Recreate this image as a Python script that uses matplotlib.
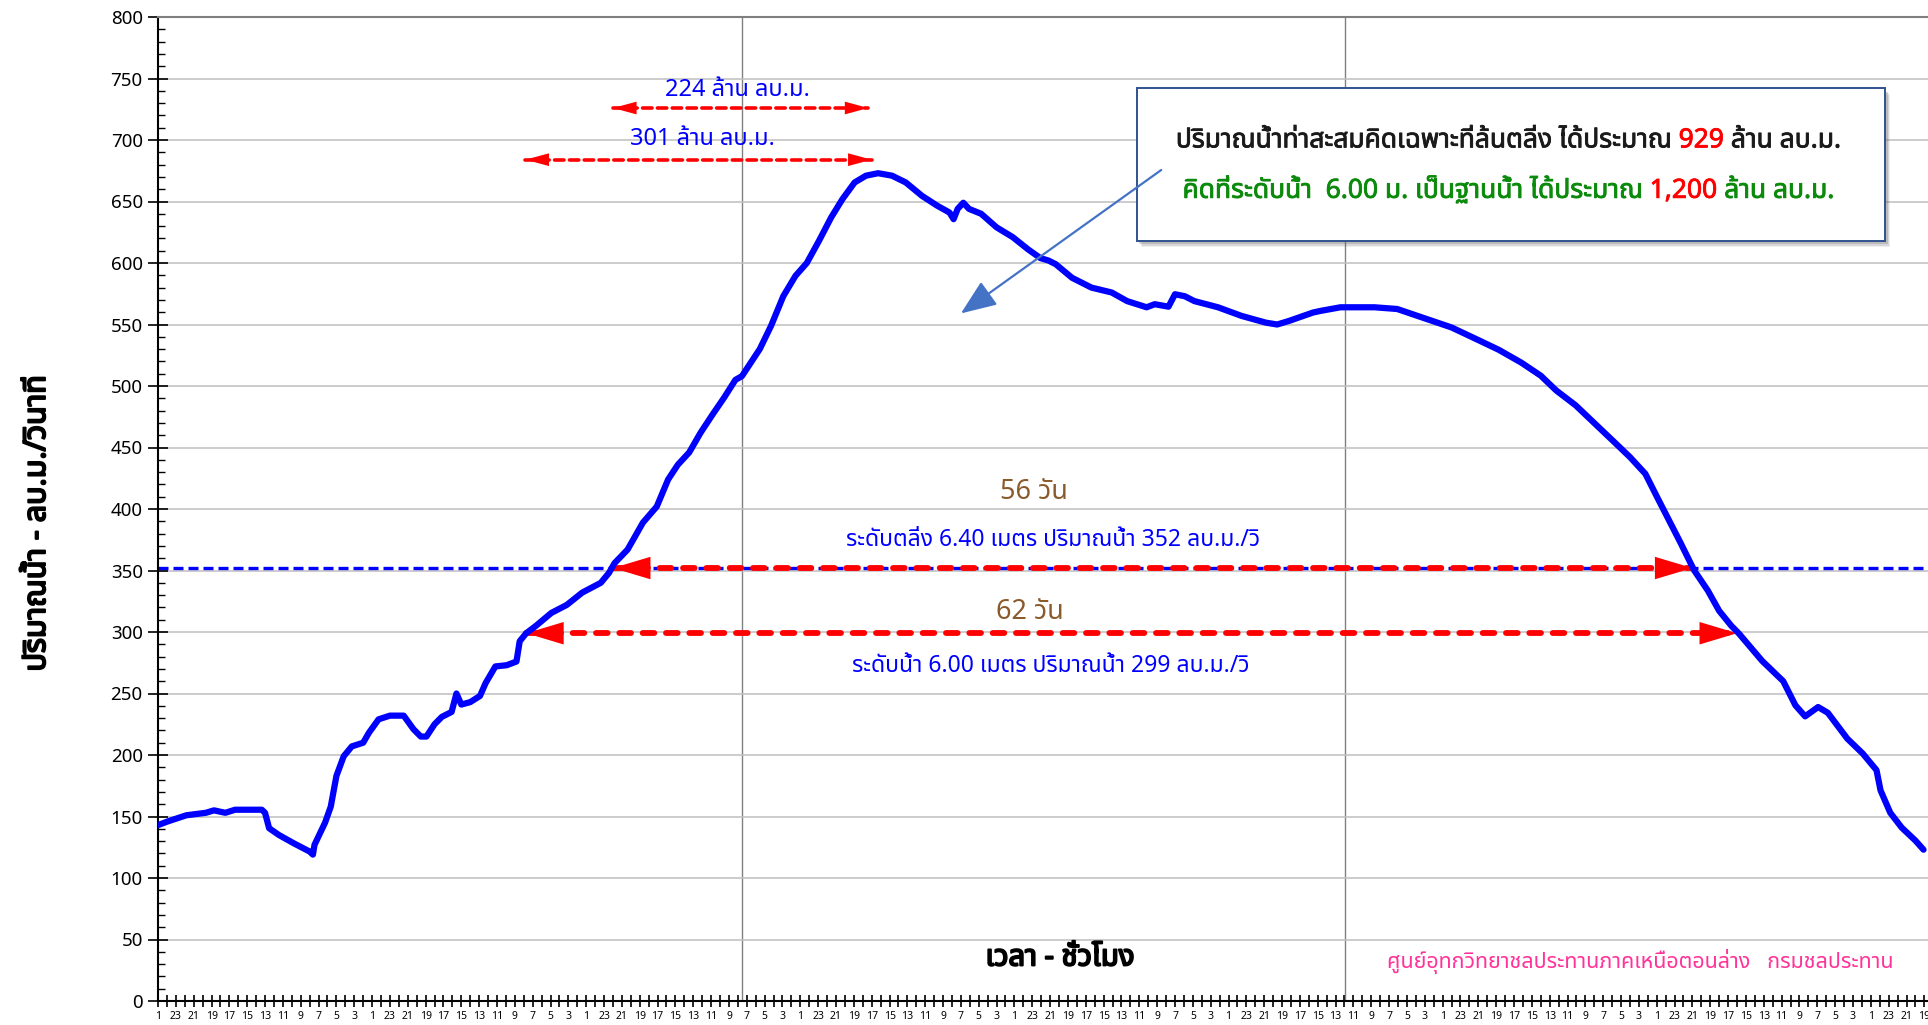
import matplotlib
matplotlib.use("Agg")
import matplotlib.pyplot as plt
import matplotlib.patheffects as pe
from matplotlib import font_manager
from matplotlib.ft2font import FT2Font
from matplotlib.patches import Rectangle
from matplotlib.ticker import MultipleLocator

# --- data (x = hours from start of record, y = discharge m3/s) ---
HOURS = [0, 12, 35, 59, 69, 83, 95, 128, 132, 137, 149, 168, 187, 191, 193, 206, 213, 220, 229, 239,
         253, 260, 272, 286, 303, 315, 324, 331, 341, 350, 362, 368, 374, 385, 397, 404, 416, 430, 442, 446,
         454, 466, 485, 504, 523, 546, 556, 563, 579, 598, 615, 629, 641, 655, 669, 684, 698, 712, 720, 742,
         756, 771, 786, 800, 815, 830, 844, 859, 873, 888, 905, 922, 942, 961, 976, 981, 986, 993, 1000, 1015,
         1034, 1054, 1073, 1088, 1098, 1107, 1127, 1151, 1176, 1195, 1219, 1229, 1246, 1254, 1266, 1278, 1307, 1336, 1366, 1380,
         1395, 1424, 1433, 1458, 1465, 1500, 1528, 1562, 1595, 1624, 1653, 1681, 1705, 1724, 1748, 1772, 1796, 1815, 1834, 1849,
         1863, 1877, 1894, 1911, 1925, 1940, 1949, 1978, 2004, 2019, 2031, 2047, 2059, 2083, 2102, 2119, 2124, 2136, 2150, 2167, 2177]
FLOW = [143, 146, 151, 153, 155, 153, 155.5, 155.5, 153, 140.5, 135, 128, 121.5, 119, 127, 145, 158, 183, 199, 207,
        210, 218, 229, 232, 232, 221, 215, 215, 225, 231, 235, 250, 241, 243, 248, 258.5, 272, 273, 276, 292.5,
        299, 305, 315.5, 322, 332, 340, 348, 356, 367, 389, 402, 424, 436, 446, 462, 477, 490.5, 505, 508, 530,
        549, 573, 589.5, 600, 618, 637, 652, 665.5, 671, 673, 671, 665.5, 654.6, 646.5, 641, 635.6, 644, 649, 644, 640,
        629, 621, 611, 604, 602, 599, 588, 580, 576, 569, 564, 566.5, 564.5, 574.6, 573, 569, 564, 557, 551.5, 550,
        553, 559.7, 561, 564, 564, 564, 562.6, 555, 547.6, 538.6, 529.5, 519, 508.4, 496.4, 484.3, 469.3, 454.2, 442.2, 428.6, 409,
        391, 373, 350.3, 333.7, 317.2, 305, 299, 276.5, 260, 240.4, 231.4, 239, 234.3, 213.3, 201.2, 187.7, 171.2, 153, 141, 130.4, 123]

MONTH_BREAKS = [720, 1464]
X_END = 2182.5

BANK_Q = 352      # bank-full flow, 6.40 m
BASE_Q = 299      # 6.00 m level
BANK_SPAN = (561, 1892)
BASE_SPAN = (454, 1947)
VOL_224 = (561, 876, 726)
VOL_301 = (453, 880, 684)

TICK_HOURS = list(range(0, 2183, 22))
TICK_LABELS = [str(h % 24 + 1) for h in TICK_HOURS]


def thai_font():
    preferred = ["Tahoma", "Noto Sans Thai", "Noto Sans Thai UI", "Loma", "Garuda", "Umpush",
                 "Waree", "Tlwg Typo", "Sarabun", "Norasi", "Kinnari", "FreeSans"]
    found = []
    for f in font_manager.fontManager.ttflist:
        try:
            if FT2Font(f.fname).get_char_index(ord("ก")):
                found.append(f.name)
        except Exception:
            continue
    for name in preferred:
        if name in found:
            return name
    return found[0] if found else "DejaVu Sans"


TH = thai_font()
plt.rcParams["font.family"] = [TH, "DejaVu Sans"]


def bold(color, w=1.0):
    # the Thai face has no bold weight, so thicken it with a stroke
    return [pe.withStroke(linewidth=w, foreground=color)]


fig = plt.figure(figsize=(19.28, 10.25), dpi=100)
ax = fig.add_axes([158 / 1928, 24 / 1025, 1 - 158 / 1928, 984 / 1025])
ax.set_xlim(0, X_END)
ax.set_ylim(0, 800)

# grid
ax.yaxis.set_major_locator(MultipleLocator(50))
ax.yaxis.set_minor_locator(MultipleLocator(10))
ax.grid(axis="y", which="major", color="#BFBFBF", lw=1.1, zorder=0)
for xb in MONTH_BREAKS:
    ax.axvline(xb, color="#808080", lw=1.0, zorder=0.5)

ax.set_xticks(TICK_HOURS)
ax.set_xticklabels(TICK_LABELS)
ax.xaxis.set_minor_locator(MultipleLocator(11))
ax.tick_params(axis="x", which="both", direction="inout", length=8, width=1.2, labelsize=7.5, pad=3)
ax.tick_params(axis="y", which="major", direction="inout", length=14, width=1.2, labelsize=13.5, pad=4)
ax.tick_params(axis="y", which="minor", direction="in", length=5, width=1.0)
for side in ["left", "bottom"]:
    ax.spines[side].set_color("black")
    ax.spines[side].set_linewidth(1.5)
ax.spines["right"].set_visible(False)
ax.spines["top"].set_color("#7F7F7F")
ax.spines["top"].set_linewidth(1.5)

# reference levels
ax.axhline(BANK_Q, color="blue", lw=2.4, dashes=(3.0, 1.5), zorder=2)


def level_arrow(x0, x1, y, lw, dashes, scale, hw):
    ax.plot([x0, x1], [y, y], color="red", lw=lw, dashes=dashes, dash_capstyle="round", zorder=3)
    ax.annotate("", xy=(x1, y), xytext=(x0, y),
                arrowprops=dict(arrowstyle=f"<|-|>,head_length=1,head_width={hw}", color="red", lw=0,
                                shrinkA=0, shrinkB=0, mutation_scale=scale), zorder=4)


level_arrow(BANK_SPAN[0], BANK_SPAN[1], BANK_Q, 4.2, (2.0, 2.0), 27, 0.3)
level_arrow(BASE_SPAN[0], BASE_SPAN[1], BASE_Q, 4.2, (2.0, 2.0), 27, 0.3)
level_arrow(VOL_224[0], VOL_224[1], VOL_224[2], 2.6, (2.6, 1.5), 17, 0.27)
level_arrow(VOL_301[0], VOL_301[1], VOL_301[2], 2.6, (2.6, 1.5), 17, 0.27)

# hydrograph
ax.plot(HOURS, FLOW, color="#0000FF", lw=4.5, solid_joinstyle="round", solid_capstyle="round", zorder=5)

# labels on chart
ax.text(714, 741, "224 ล้าน ลบ.ม.", color="blue", fontsize=17, ha="center", va="center", zorder=6)
ax.text(671, 701, "301 ล้าน ลบ.ม.", color="blue", fontsize=17, ha="center", va="center", zorder=6)
ax.text(1080, 414, "56 วัน", color="#8B5A2B", fontsize=19.5, ha="center", va="center", zorder=6)
ax.text(1104, 375, "ระดับตลิ่ง 6.40 เมตร ปริมาณน้ำ 352 ลบ.ม./วิ", color="blue", fontsize=16.5,
        ha="center", va="center", zorder=6)
ax.text(1075, 316, "62 วัน", color="#8B5A2B", fontsize=19.5, ha="center", va="center", zorder=6)
ax.text(1101, 272, "ระดับน้ำ 6.00 เมตร ปริมาณน้ำ 299 ลบ.ม./วิ", color="blue", fontsize=16.5,
        ha="center", va="center", zorder=6)
ax.text(1112, 35, "เวลา - ชั่วโมง", color="black", fontsize=21, ha="center", va="center", zorder=6,
        path_effects=bold("black", 1.4))
ax.text(1828, 32, "ศูนย์อุทกวิทยาชลประทานภาคเหนือตอนล่าง   กรมชลประทาน", color="#FF3399", fontsize=15.5,
        ha="center", va="center", zorder=6)

fig.text(37 / 1928, 1 - 523 / 1025, "ปริมาณน้ำ - ลบ.ม./วินาที", rotation=90, fontsize=22,
         ha="center", va="center", path_effects=bold("black", 1.4))

# summary box
bx0, bx1, by0, by1 = 1207, 2129.5, 618, 742
for i, a in enumerate([0.10, 0.16, 0.24]):
    off = 4 - i
    ax.add_patch(Rectangle((bx0 + off * 1.6, by0 - off * 1.3), bx1 - bx0, by1 - by0,
                           facecolor="#606060", edgecolor="none", alpha=a, zorder=7))
ax.add_patch(Rectangle((bx0, by0), bx1 - bx0, by1 - by0, facecolor="white",
                       edgecolor="#2F528F", lw=1.4, zorder=8))

renderer = fig.canvas.get_renderer()


def colored_line(xc, y, parts, size):
    texts = []
    for s, c in parts:
        t = ax.annotate(s, xy=(xc, y), xytext=(0, 0), textcoords="offset pixels", color=c,
                        fontsize=size, ha="left", va="baseline", zorder=9,
                        path_effects=bold(c, 0.6))
        texts.append(t)
    widths = [t.get_window_extent(renderer).width for t in texts]
    x_off = -sum(widths) / 2
    for t, w in zip(texts, widths):
        t.set_position((x_off, 0))
        x_off += w


colored_line(1665, 694, [("ปริมาณน้ำท่าสะสมคิดเฉพาะที่ล้นตลิ่ง ได้ประมาณ ", "#1A1A1A"),
                         ("929", "red"), (" ล้าน ลบ.ม.", "#1A1A1A")], 19)
colored_line(1665, 653, [("คิดที่ระดับน้ำ  6.00 ม. เป็นฐานน้ำ ได้ประมาณ ", "#0B8A0B"),
                         ("1,200", "red"), (" ล้าน ลบ.ม.", "#0B8A0B")], 19)

ax.annotate("", xy=(990, 559), xytext=(1237, 675.6),
            arrowprops=dict(arrowstyle="-|>,head_length=1,head_width=0.4", color="#4472C4", lw=1.6,
                            shrinkA=0, shrinkB=0, mutation_scale=22), zorder=10)

fig.savefig("out.png", dpi=100)
